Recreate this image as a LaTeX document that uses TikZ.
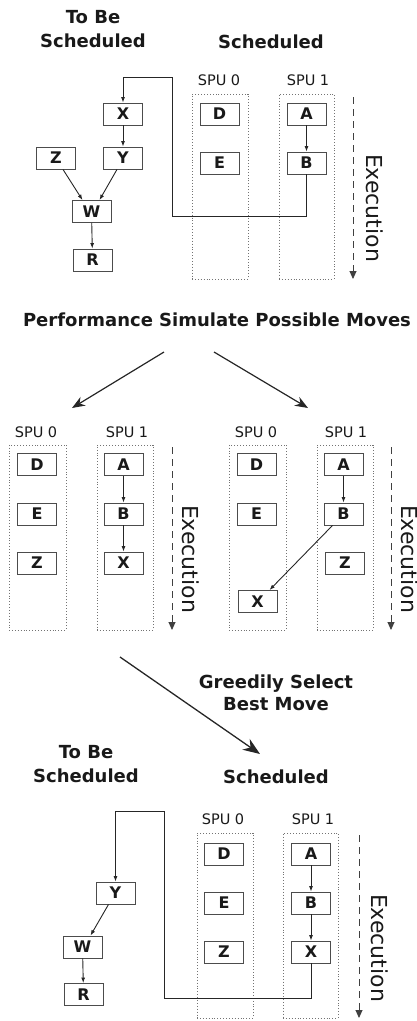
\documentclass[tikz,border=0pt]{standalone}
\usepackage{fontspec}
\setmainfont{DejaVu Sans}
\usetikzlibrary{arrows.meta}

\tikzset{
  task/.style={draw=black!70, line width=0.9pt, fill=white,
    minimum width=39pt, minimum height=22pt, inner sep=0pt,
    font=\bfseries\fontsize{16}{16}\selectfont, text=black!90},
  spu/.style={draw=black!55, dotted, line width=0.9pt,
    minimum width=56pt, minimum height=185pt, inner sep=0pt},
  spulabel/.style={font=\fontsize{14.5}{14.5}\selectfont, text=black!90},
  heading/.style={font=\bfseries\fontsize{18}{24}\selectfont, align=center, text=black!90},
  dep/.style={line width=0.9pt, draw=black!85,
    -{Latex[length=5.5pt,width=4pt]}},
  execline/.style={line width=0.9pt, draw=black!75, dash pattern=on 7pt off 5pt,
    -{Triangle[length=8pt,width=7pt]}},
  exectext/.style={rotate=-90, font=\fontsize{22}{22}\selectfont, text=black!90},
  move/.style={line width=1.2pt, draw=black!85,
    -{Stealth[length=13pt,width=10pt]}},
  bigmove/.style={line width=1.3pt, draw=black!85,
    -{Stealth[length=17pt,width=13pt]}},
}

\begin{document}
\begin{tikzpicture}[x=1pt,y=-1pt]
\useasboundingbox (0,0) rectangle (417,1021);

% ---------------- initial state ----------------
\node[heading] (tbs1) at (93,29) {To Be\\Scheduled};
\node[heading] (sch1) at (271,42) {Scheduled};

\node[spulabel] (l1a) at (219,80) {SPU 0};
\node[spulabel] (l1b) at (308,80) {SPU 1};
\node[spu] (s1a) at (220,186.5) {};
\node[spu, minimum width=55pt] (s1b) at (306.5,186.5) {};

\node[task] (D1) at (219.5,114) {D};
\node[task] (E1) at (219.5,163) {E};
\node[task] (A1) at (306.5,114) {A};
\node[task] (B1) at (306.5,163) {B};

\node[task] (X1) at (123,114) {X};
\node[task] (Y1) at (123,158) {Y};
\node[task] (Z1) at (56,158) {Z};
\node[task] (W1) at (91.5,211.5) {W};
\node[task] (R1) at (92.5,260) {R};

\draw[dep] (A1) -- (B1);
\draw[dep] (X1) -- (Y1);
\draw[dep] ([xshift=7pt]Z1.south) -- ([xshift=-9pt]W1.north);
\draw[dep] ([xshift=-6pt]Y1.south) -- ([xshift=8pt]W1.north);
\draw[dep] (W1) -- (R1);
\coordinate (c1a) at (172,216);
\coordinate (c1b) at (172,77);
\draw[dep] (B1.south) |- (c1a) -- (c1b) -| (X1.north);

\coordinate (e1s) at (353,97);
\coordinate (e1e) at (353,279);
\draw[execline] (e1s) -- (e1e);
\node[exectext] (t1) at (375,208) {Execution};

% ---------------- simulated moves ----------------
\node[heading] (perf) at (217,320) {Performance Simulate Possible Moves};
\coordinate (m1s) at (164,352);
\coordinate (m1e) at (72,408);
\coordinate (m2s) at (214,352);
\coordinate (m2e) at (308,408);
\draw[move] (m1s) -- (m1e);
\draw[move] (m2s) -- (m2e);

% option 1: X after B on SPU 1
\node[spulabel] (l2a) at (36,432) {SPU 0};
\node[spulabel] (l2b) at (127,432) {SPU 1};
\node[spu, minimum width=57pt] (s2a) at (37.5,537.5) {};
\node[spu] (s2b) at (125,537.5) {};
\node[task] (D2) at (37,464.5) {D};
\node[task] (E2) at (37,514) {E};
\node[task] (Z2) at (37,563) {Z};
\node[task] (A2) at (123.5,464.5) {A};
\node[task] (B2) at (123.5,514) {B};
\node[task] (X2) at (123.5,563) {X};
\draw[dep] (A2) -- (B2);
\draw[dep] (B2) -- (X2);
\coordinate (e2s) at (172,447);
\coordinate (e2e) at (172,630);
\draw[execline] (e2s) -- (e2e);
\node[exectext] (t2) at (191,559) {Execution};

% option 2: X on SPU 0
\node[spulabel] (l3a) at (256,432) {SPU 0};
\node[spulabel] (l3b) at (346,432) {SPU 1};
\node[spu, minimum width=57pt] (s3a) at (257.5,537.5) {};
\node[spu] (s3b) at (345,537.5) {};
\node[task] (D3) at (256.5,464.5) {D};
\node[task] (E3) at (256.5,514) {E};
\node[task] (X3) at (257.5,601.5) {X};
\node[task] (A3) at (343.5,464.5) {A};
\node[task] (B3) at (343.5,514) {B};
\node[task] (Z3) at (345,563) {Z};
\draw[dep] (A3) -- (B3);
\draw[dep] ([xshift=-11pt]B3.south) -- ([xshift=12pt]X3.north);
\coordinate (e3s) at (391,447);
\coordinate (e3e) at (391,630);
\draw[execline] (e3s) -- (e3e);
\node[exectext] (t3) at (410,559) {Execution};

% ---------------- selected move ----------------
\coordinate (gs) at (120,657);
\coordinate (ge) at (260,754);
\draw[bigmove] (gs) -- (ge);
\node[heading, font=\bfseries\fontsize{18}{22.5}\selectfont] (greedy) at (276,693) {Greedily Select\\Best Move};

\node[heading] (tbs4) at (86,764) {To Be\\Scheduled};
\node[heading] (sch4) at (276,777) {Scheduled};

\node[spulabel] (l4a) at (223,819) {SPU 0};
\node[spulabel] (l4b) at (313,819) {SPU 1};
\node[spu] (s4a) at (225,925.5) {};
\node[spu, minimum width=55pt] (s4b) at (310.5,925.5) {};
\node[task] (D4) at (224,854) {D};
\node[task] (E4) at (224,903) {E};
\node[task] (Z4) at (224,952) {Z};
\node[task] (A4) at (311,854) {A};
\node[task] (B4) at (311,903) {B};
\node[task] (X4) at (311,952) {X};

\node[task] (Y4) at (115.5,893) {Y};
\node[task] (W4) at (82.5,947) {W};
\node[task] (R4) at (83.5,994.5) {R};

\draw[dep] (A4) -- (B4);
\draw[dep] (B4) -- (X4);
\draw[dep] ([xshift=-7pt]Y4.south) -- ([xshift=8pt]W4.north);
\draw[dep] (W4) -- (R4);
\coordinate (c4a) at (164,998);
\coordinate (c4b) at (164,811);
\draw[dep] (X4.south) |- (c4a) -- (c4b) -| (Y4.north);

\coordinate (e4s) at (359,835);
\coordinate (e4e) at (359,1018);
\draw[execline] (e4s) -- (e4e);
\node[exectext] (t4) at (380,948) {Execution};
\end{tikzpicture}
\end{document}
